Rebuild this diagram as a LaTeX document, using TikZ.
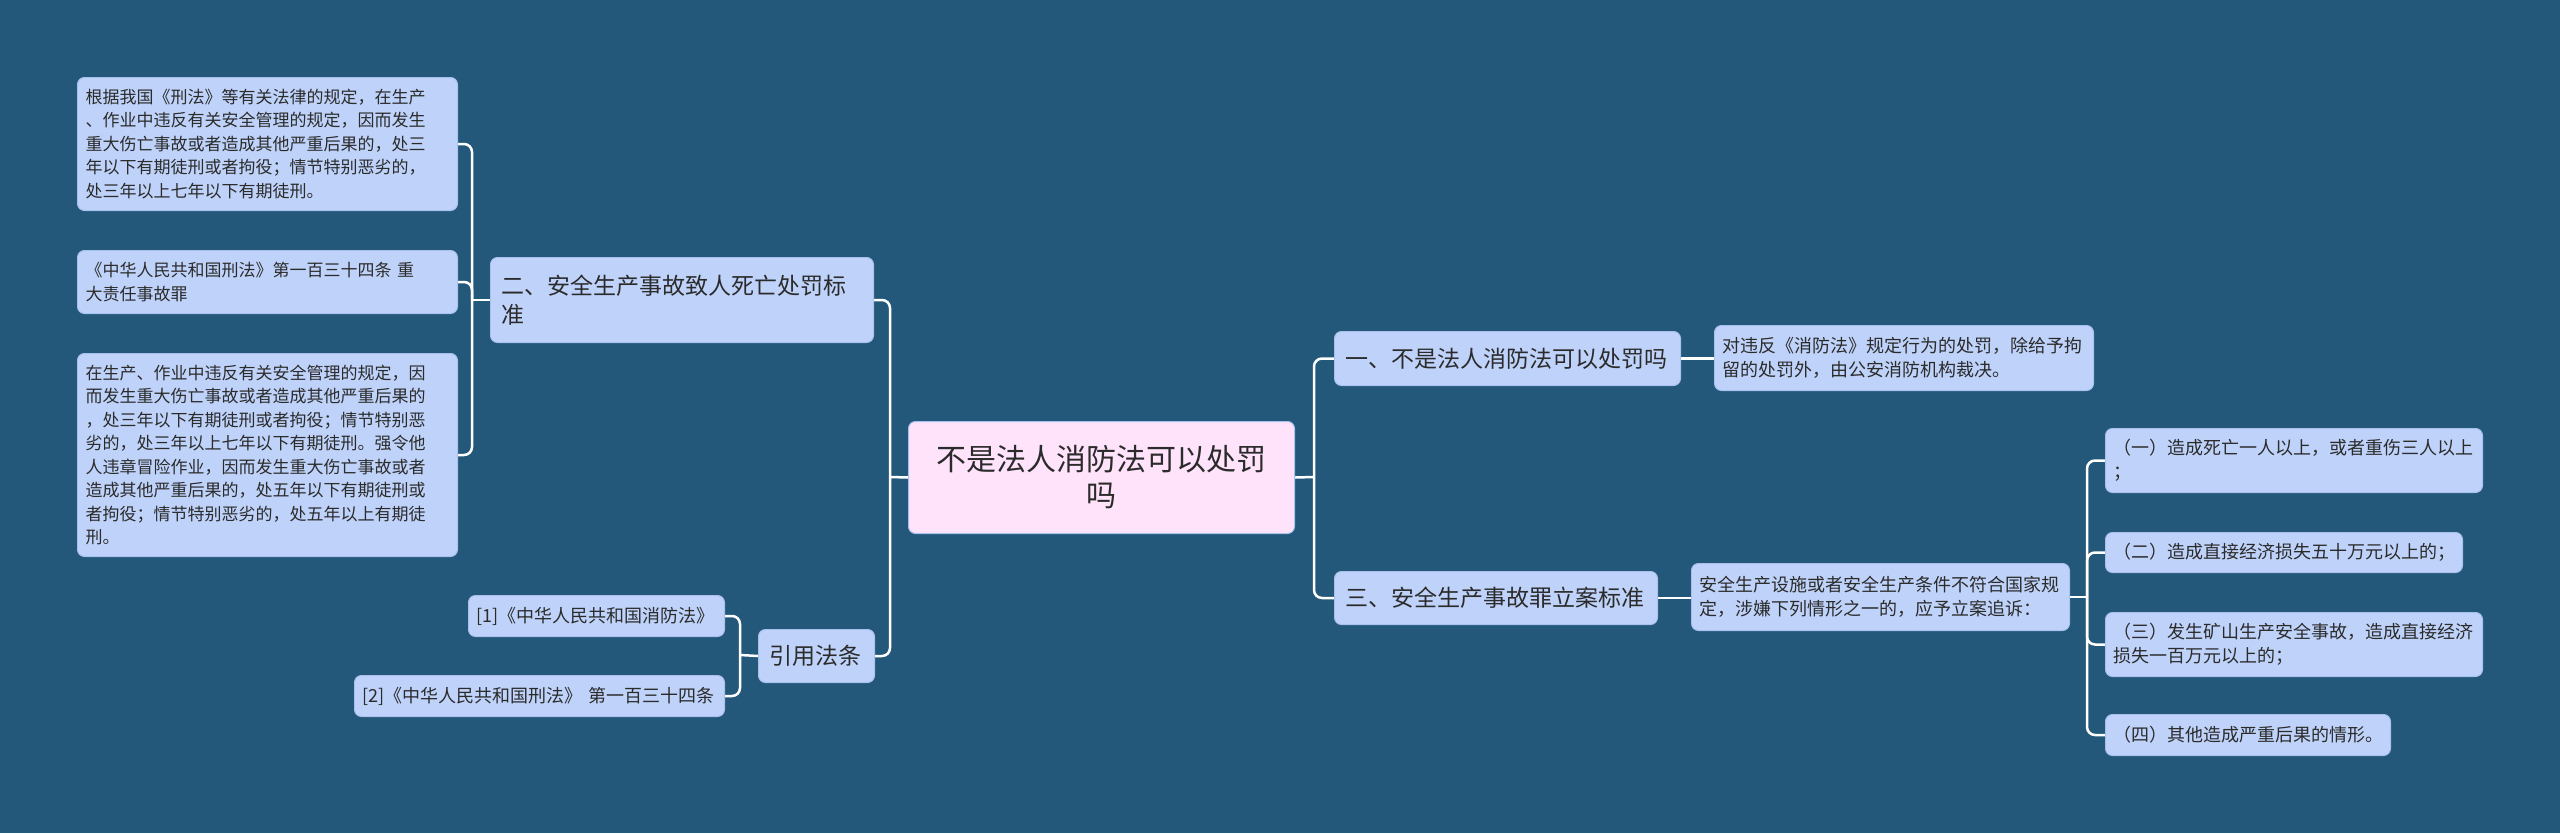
\documentclass[tikz,border=0pt]{standalone}
\usepackage{fontspec}
\setmainfont{Noto Sans CJK SC}
\definecolor{bgc}{HTML}{23587A}
\definecolor{boxfill}{HTML}{BFD3FA}
\definecolor{rootfill}{HTML}{FFE3FB}
\definecolor{boxline}{HTML}{A8C0EE}
\definecolor{textc}{HTML}{2B2B2B}
\pgfdeclarelayer{bg}
\pgfsetlayers{bg,main}
\newcommand{\leafS}{\fontsize{17}{23.5}\selectfont}
\newcommand{\leafM}{\fontsize{18}{24}\selectfont}
\newcommand{\branchF}{\fontsize{23}{29}\selectfont}
\newcommand{\rootF}{\fontsize{30}{36}\selectfont}
\tikzset{
  box/.style={draw=boxline, fill=boxfill, rounded corners=7pt, line width=1pt,
    text=textc, anchor=north west, inner xsep=8pt, inner ysep=0pt, align=left},
  leafbox/.style={box, font=\leafS},
  leafboxm/.style={box, font=\leafM},
  branchbox/.style={box, font=\branchF, inner xsep=11pt},
  rootbox/.style={box, fill=rootfill, font=\rootF, align=center},
  conn/.style={draw=white, line width=2.5pt, rounded corners=8pt},
}
\begin{document}
\begin{tikzpicture}[x=1pt,y=-1pt]
\begin{pgfonlayer}{bg}
\fill[bgc] (0,0) rectangle (2560,833);
\end{pgfonlayer}
\useasboundingbox (0,0) rectangle (2560,833);

% root
\node[rootbox, text width=370pt, minimum height=112pt] (root) at (908,421) {不是法人消防法可以处罚\\吗};

% left branch 二
\node[branchbox, text width=361pt, minimum height=85pt] (b2) at (490,257) {二、安全生产事故致人死亡处罚标\\准};
\node[leafbox, text width=364pt, minimum height=133pt] (l1) at (77,77) {根据我国《刑法》等有关法律的规定，在生产\\、作业中违反有关安全管理的规定，因而发生\\重大伤亡事故或者造成其他严重后果的，处三\\年以下有期徒刑或者拘役；情节特别恶劣的，\\处三年以上七年以下有期徒刑。};
\node[leafbox, text width=364pt, minimum height=63pt] (l2) at (77,250) {《中华人民共和国刑法》第一百三十四条 重\\大责任事故罪};
\node[leafbox, text width=364pt, minimum height=203pt] (l3) at (77,353) {在生产、作业中违反有关安全管理的规定，因\\而发生重大伤亡事故或者造成其他严重后果的\\，处三年以下有期徒刑或者拘役；情节特别恶\\劣的，处三年以上七年以下有期徒刑。强令他\\人违章冒险作业，因而发生重大伤亡事故或者\\造成其他严重后果的，处五年以下有期徒刑或\\者拘役；情节特别恶劣的，处五年以上有期徒\\刑。};

% left branch 引用法条
\node[branchbox, text width=94pt, minimum height=53pt] (cite) at (758,629) {引用法条};
\node[leafboxm, text width=240pt, minimum height=41pt, inner xsep=8pt] (c1) at (468,595) {[1]《中华人民共和国消防法》};
\node[leafboxm, text width=354pt, minimum height=41pt, inner xsep=8pt] (c2) at (354,675) {[2]《中华人民共和国刑法》 第一百三十四条};

% right branch 一
\node[branchbox, text width=324pt, minimum height=54pt] (b1) at (1334,331) {一、不是法人消防法可以处罚吗};
\node[leafboxm, text width=363pt, minimum height=65pt] (r1) at (1714,325) {对违反《消防法》规定行为的处罚，除给予拘\\留的处罚外，由公安消防机构裁决。};

% right branch 三
\node[branchbox, text width=301pt, minimum height=53pt] (b3) at (1334,571) {三、安全生产事故罪立案标准};
\node[leafboxm, text width=362pt, minimum height=67pt] (r2) at (1691,563) {安全生产设施或者安全生产条件不符合国家规\\定，涉嫌下列情形之一的，应予立案追诉：};
\node[leafboxm, text width=361pt, minimum height=64pt] (s1) at (2105,428) {（一）造成死亡一人以上，或者重伤三人以上\\；};
\node[leafboxm, text width=341pt, minimum height=40pt] (s2) at (2105,532) {（二）造成直接经济损失五十万元以上的；};
\node[leafboxm, text width=361pt, minimum height=64pt] (s3) at (2105,612) {（三）发生矿山生产安全事故，造成直接经济\\损失一百万元以上的；};
\node[leafboxm, text width=269pt, minimum height=41pt] (s4) at (2105,714) {（四）其他造成严重后果的情形。};

% connectors
\coordinate (tL) at (890,477);
\coordinate (tR) at (1314,477);
\coordinate (tL2) at (472,300);
\coordinate (tC) at (740,655);
\coordinate (tS) at (2087,597);
\begin{pgfonlayer}{bg}
\draw[conn] (root.west) -- (tL);
\draw[conn] (b2.east) -| (tL) |- (cite.east);
\draw[conn] (root.east) -- (tR);
\draw[conn] (b1.west) -| (tR) |- (b3.west);
\draw[conn] (l1.east) -| (tL2) |- (l3.east);
\draw[conn] (l2.east) -| (tL2);
\draw[conn] (tL2) -- (b2.west);
\draw[conn] (c1.east) -| (tC) |- (c2.east);
\draw[conn] (tC) -- (cite.west);
\draw[conn] (b1.east) -- (b1.east -| r1.west);
\draw[conn] (b3.east) -- (b3.east -| r2.west);
\draw[conn] (r2.east) -- (r2.east -| tS);
\draw[conn] (s1.west) -| (tS) |- (s4.west);
\draw[conn] (s2.west) -| (tS);
\draw[conn] (s3.west) -| (tS);
\end{pgfonlayer}
\end{tikzpicture}
\end{document}
